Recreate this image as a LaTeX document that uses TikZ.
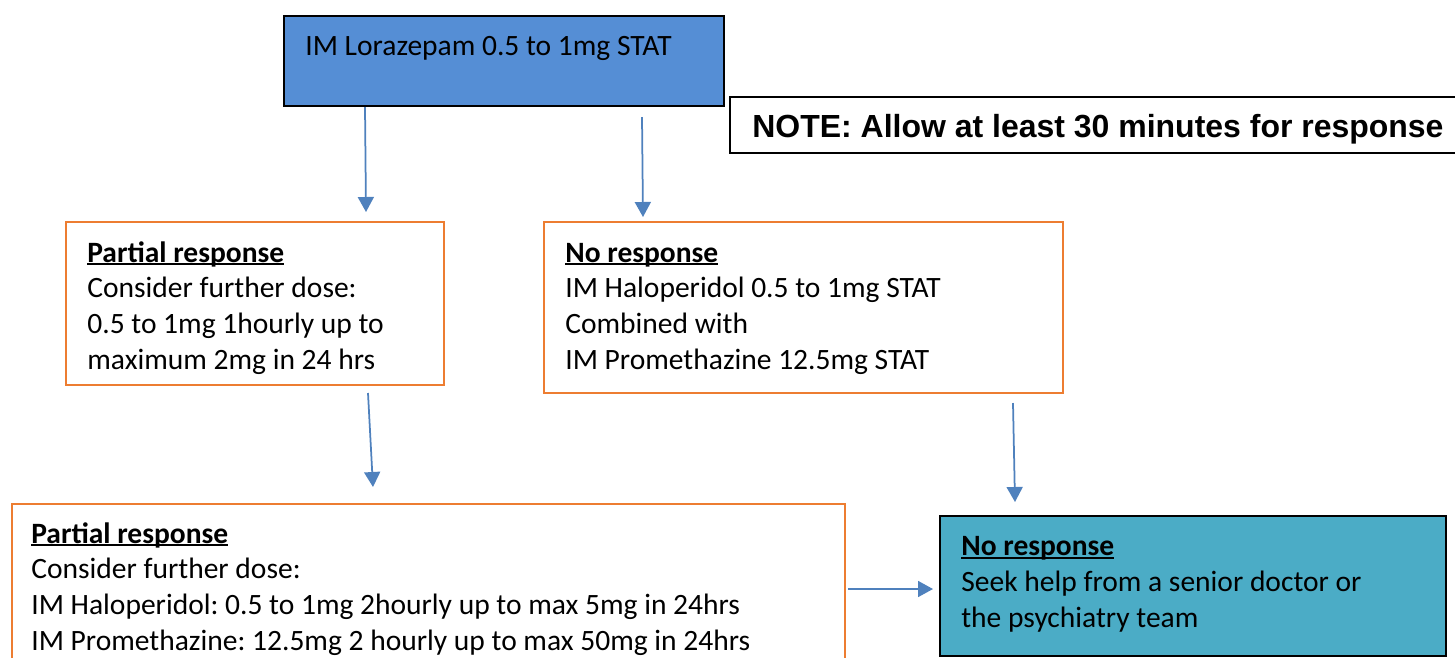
\documentclass[tikz,border=0pt]{standalone}
\usepackage{fontspec}
\setmainfont{Carlito}
\newfontfamily\notefont{Liberation Sans}
\usetikzlibrary{arrows.meta,fit}
\definecolor{lorblue}{HTML}{558ED5}
\definecolor{orng}{HTML}{ED7D31}
\definecolor{tealbox}{HTML}{4BACC6}
\definecolor{arrblue}{HTML}{4F81BD}
\newcommand\myul[1]{\setbox0\hbox{#1}\rlap{\rule[-0.1em]{\wd0}{0.065em}}\box0}
\frenchspacing
\begin{document}
\begin{tikzpicture}[x=0.02cm,y=-0.02cm,
  box/.style={draw,inner sep=0pt,line width=0.04cm},
  txt/.style={inner sep=0pt,anchor=base west,align=left,font=\fontsize{16.8}{20.3}\selectfont},
  arr/.style={draw=arrblue,line width=0.035cm,-{Triangle[width=0.32cm,length=0.3cm]}}]
\useasboundingbox (0,0) rectangle (1455,657);
% boxes (text nodes are anchored at the baseline of their last line)
\node[box,fill=lorblue,fit={(284,16)(724,106)}] (lor) {};
\node[txt] (lort) at (305,55) {IM Lorazepam 0.5 to 1mg STAT};
\node[draw,line width=0.03cm,inner sep=0pt,fit={(730,97)(1475,153)}] (note) {};
\node[inner sep=0pt,anchor=base west,font=\notefont\bfseries\fontsize{18.2}{22}\selectfont] (notet) at (752,137) {NOTE: Allow at least 30 minutes for response};
\node[box,draw=orng,fit={(66,222)(444,385)}] (p1) {};
\node[txt] (p1t) at (87,369) {\textbf{\myul{Partial response}}\\Consider further dose:\\0.5 to 1mg 1hourly up to\\maximum 2mg in 24 hrs};
\node[box,draw=orng,fit={(544,222)(1063,393)}] (n1) {};
\node[txt] (n1t) at (565,369) {\textbf{\myul{No response}}\\IM Haloperidol 0.5 to 1mg STAT\\Combined with\\IM Promethazine 12.5mg STAT};
\node[box,draw=orng,fit={(12,504)(845,680)}] (p2) {};
\node[txt] (p2t) at (31,650) {\textbf{\myul{Partial response}}\\Consider further dose:\\IM Haloperidol: 0.5 to 1mg 2hourly up to max 5mg in 24hrs\\IM Promethazine: 12.5mg 2 hourly up to max 50mg in 24hrs};
\node[box,fill=tealbox,fit={(940,516)(1446,656)}] (n2) {};
\node[txt] (n2t) at (961,627) {\textbf{\myul{No response}}\\Seek help from a senior doctor or\\the psychiatry team};
% connectors
\coordinate (a1s) at (365,107); \coordinate (a1e) at (366,212);
\coordinate (a2s) at (642,117); \coordinate (a2e) at (643,217);
\coordinate (a3s) at (368,393); \coordinate (a3e) at (373,487);
\coordinate (a4s) at (1013,403); \coordinate (a4e) at (1015,502);
\coordinate (a5s) at (848,589); \coordinate (a5e) at (933,589);
\draw[arr] (a1s) -- (a1e);
\draw[arr] (a2s) -- (a2e);
\draw[arr] (a3s) -- (a3e);
\draw[arr] (a4s) -- (a4e);
\draw[arr] (a5s) -- (a5e);
\end{tikzpicture}
\end{document}
